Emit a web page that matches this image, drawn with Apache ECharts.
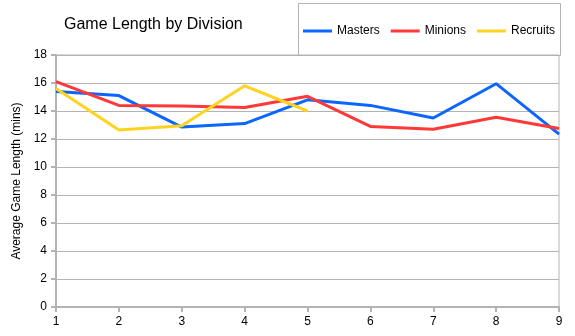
<!DOCTYPE html>
<html>
<head>
<meta charset="utf-8">
<script src="https://cdn.jsdelivr.net/npm/echarts@6/dist/echarts.min.js"></script>
<style>html,body{margin:0;padding:0;background:#fff}#c{width:575px;height:336px}</style>
</head>
<body>
<div id="c"></div>
<script>
const categories = ['1','2','3','4','5','6','7','8','9'];
const masters  = [15.4, 15.1, 12.85, 13.1, 14.8, 14.4, 13.5, 15.95, 12.35];
const minions  = [16.1, 14.4, 14.35, 14.25, 15.05, 12.9, 12.7, 13.55, 12.75];
const recruits = [15.6, 12.65, 12.95, 15.8, 14.0];
const yTicks = {min: 0, max: 18, interval: 2};

const FONT = '"Liberation Sans", Arial, sans-serif';
const chart = echarts.init(document.getElementById('c'), null, {renderer: 'canvas'});
const mk = (name, data, color) => ({
  name, type: 'line', data, symbol: 'none', showSymbol: false,
  lineStyle: {color, width: 3}, itemStyle: {color}, animation: false
});
chart.setOption({
  animation: false,
  textStyle: {fontFamily: FONT},
  title: {
    text: 'Game Length by Division', left: 59, top: 12,
    textStyle: {fontFamily: FONT, fontSize: 16, fontWeight: 'normal', color: '#000'}
  },
  graphic: [{
    type: 'rect', left: 298, top: 3, z: -1,
    shape: {width: 262, height: 52},
    style: {fill: '#fff', stroke: '#b3b3b3', lineWidth: 1}
  }],
  legend: {
    left: 298, top: 20, itemWidth: 29, itemHeight: 3, itemGap: 11, icon: 'rect',
    textStyle: {fontFamily: FONT, fontSize: 12, color: '#000'},
    data: ['Masters', 'Minions', 'Recruits']
  },
  grid: {left: 56, right: 16, top: 55, bottom: 29, show: true, borderColor: '#b3b3b3', borderWidth: 1, backgroundColor: 'transparent'},
  xAxis: {
    type: 'category', data: categories, boundaryGap: false,
    axisLine: {lineStyle: {color: '#b3b3b3', width: 2}},
    axisTick: {show: true, length: 5, lineStyle: {color: '#b3b3b3', width: 2}},
    axisLabel: {color: '#000', fontFamily: FONT, fontSize: 12, margin: 9},
    splitLine: {show: false}
  },
  yAxis: {
    type: 'value', min: yTicks.min, max: yTicks.max, interval: yTicks.interval,
    name: 'Average Game Length (mins)', nameLocation: 'middle', nameGap: 32,
    nameTextStyle: {fontFamily: FONT, fontSize: 12, color: '#000'},
    axisLine: {show: true, lineStyle: {color: '#b3b3b3', width: 2}},
    axisTick: {show: true, length: 5, lineStyle: {color: '#b3b3b3', width: 2}},
    axisLabel: {color: '#000', fontFamily: FONT, fontSize: 12, margin: 9},
    splitLine: {lineStyle: {color: '#b3b3b3', width: 1}}
  },
  series: [
    mk('Masters', masters, '#0a66ff'),
    mk('Minions', minions, '#ff3838'),
    mk('Recruits', recruits, '#ffd320')
  ]
});
</script>
</body>
</html>
